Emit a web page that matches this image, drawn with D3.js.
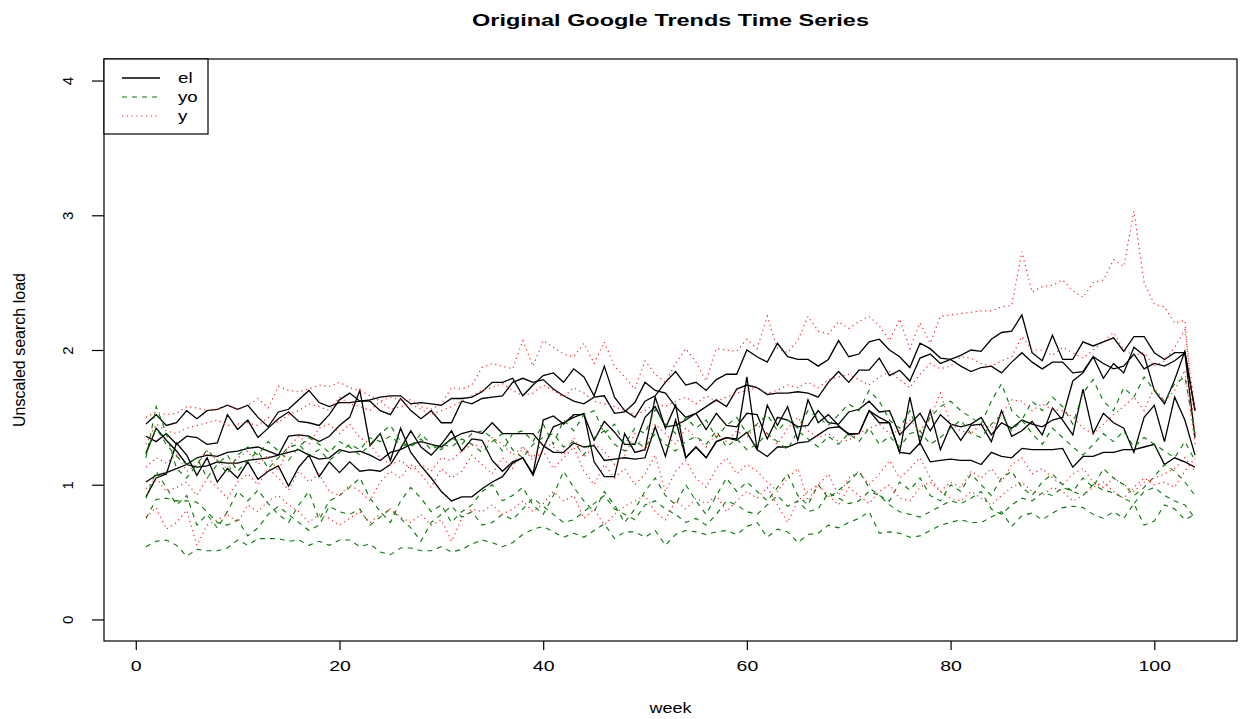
<!DOCTYPE html>
<html>
<head>
<meta charset="utf-8">
<script src="https://cdn.jsdelivr.net/npm/d3@7"></script>
<style>
  body { margin: 0; background: #fff; }
  text { font-family: "Liberation Sans", Arial, sans-serif; fill: #000; }
</style>
</head>
<body>
<script>
// weekly values (5 series per search term)
let el1 = [1.45,1.52,1.44,1.46,1.55,1.49,1.55,1.56,1.59,1.56,
  1.59,1.50,1.43,1.54,1.56,1.63,1.70,1.61,1.58,1.61,
  1.61,1.62,1.63,1.65,1.66,1.66,1.60,1.61,1.60,1.59,
  1.64,1.64,1.65,1.69,1.76,1.76,1.79,1.66,1.74,1.81,
  1.83,1.76,1.86,1.80,1.66,1.88,1.65,1.55,1.50,1.62,
  1.66,1.76,1.84,1.74,1.76,1.70,1.78,1.82,1.82,2.00,
  1.95,1.91,2.05,1.95,1.93,1.93,1.88,1.93,2.07,1.95,
  1.97,2.06,2.08,2.00,1.95,1.87,2.05,2.01,1.94,1.93,
  1.96,2.00,1.99,2.08,2.13,2.14,2.26,1.98,1.92,2.11,
  1.93,1.93,2.06,2.03,2.06,2.09,1.99,2.10,2.10,1.98,
  1.93,1.98,1.98,1.55]
let el2 = [1.36,1.32,1.38,1.30,1.36,1.35,1.30,1.31,1.52,1.41,
  1.48,1.35,1.42,1.49,1.54,1.47,1.46,1.44,1.52,1.63,
  1.68,1.62,1.62,1.55,1.52,1.64,1.55,1.49,1.55,1.46,
  1.46,1.62,1.60,1.64,1.65,1.66,1.76,1.79,1.76,1.78,
  1.71,1.66,1.62,1.60,1.65,1.66,1.53,1.54,1.61,1.76,
  1.70,1.68,1.58,1.50,1.53,1.58,1.63,1.58,1.71,1.74,
  1.72,1.67,1.68,1.68,1.69,1.68,1.65,1.76,1.84,1.76,
  1.85,1.85,1.94,1.81,1.85,1.77,1.94,1.97,1.90,1.93,
  1.88,1.84,1.87,1.88,1.83,1.91,1.98,1.91,1.86,1.91,
  1.91,1.83,1.84,1.95,1.90,1.86,1.88,1.97,1.86,1.90,
  1.88,1.92,1.98,1.35]
let el3 = [1.23,1.42,1.33,1.25,1.15,1.13,1.14,1.17,1.16,1.16,
  1.18,1.19,1.20,1.22,1.36,1.37,1.36,1.32,1.36,1.44,
  1.50,1.70,1.29,1.38,1.18,1.42,1.24,1.14,1.05,0.95,
  0.88,0.91,0.91,0.97,1.02,1.06,1.16,1.20,1.07,1.27,
  1.43,1.46,1.50,1.53,1.17,1.06,1.06,1.38,1.24,1.26,
  1.65,1.42,1.59,1.20,1.28,1.20,1.32,1.35,1.34,1.80,
  1.26,1.59,1.44,1.58,1.33,1.63,1.46,1.52,1.44,1.37,
  1.38,1.55,1.50,1.46,1.24,1.65,1.31,1.55,1.26,1.44,
  1.33,1.44,1.45,1.32,1.55,1.36,1.40,1.47,1.37,1.57,
  1.48,1.37,1.71,1.38,1.53,1.46,1.42,1.24,1.50,1.59,
  1.32,1.65,1.48,1.22]
let el4 = [1.02,1.07,1.09,1.12,1.15,1.20,1.22,1.21,1.24,1.25,
  1.27,1.28,1.25,1.22,1.24,1.26,1.22,1.19,1.20,1.26,
  1.24,1.25,1.22,1.18,1.24,1.26,1.30,1.32,1.30,1.28,
  1.34,1.38,1.40,1.38,1.46,1.38,1.38,1.38,1.38,1.29,
  1.24,1.24,1.31,1.28,1.29,1.18,1.19,1.20,1.19,1.20,
  1.43,1.21,1.48,1.20,1.28,1.20,1.32,1.35,1.33,1.39,
  1.26,1.21,1.28,1.28,1.31,1.32,1.37,1.42,1.43,1.38,
  1.38,1.55,1.46,1.46,1.24,1.23,1.31,1.17,1.18,1.19,
  1.18,1.18,1.15,1.24,1.21,1.20,1.27,1.26,1.26,1.26,
  1.27,1.13,1.21,1.21,1.24,1.24,1.26,1.26,1.28,1.30,
  1.15,1.20,1.17,1.13]
let el5 = [0.91,1.05,1.08,1.31,1.22,1.07,1.20,1.02,1.12,1.05,
  1.17,1.04,1.10,1.14,0.99,1.13,1.22,1.06,1.17,1.09,
  1.17,1.10,1.11,1.10,1.15,1.27,1.40,1.28,1.22,1.30,
  1.40,1.25,1.34,1.33,1.18,1.10,1.17,1.20,1.08,1.48,
  1.51,1.45,1.52,1.52,1.33,1.47,1.39,1.30,1.30,1.50,
  1.58,1.43,1.44,1.48,1.53,1.41,1.53,1.44,1.43,1.53,
  1.52,1.34,1.50,1.48,1.43,1.44,1.55,1.46,1.45,1.54,
  1.56,1.62,1.54,1.55,1.37,1.45,1.53,1.40,1.52,1.45,
  1.43,1.45,1.50,1.37,1.46,1.42,1.48,1.45,1.43,1.48,
  1.50,1.77,1.83,1.95,1.79,1.90,1.83,2.02,1.96,1.70,
  1.60,1.78,1.99,1.55]

let yo1 = [0.54,0.58,0.59,0.55,0.47,0.52,0.51,0.51,0.53,0.59,
  0.55,0.60,0.60,0.60,0.58,0.59,0.55,0.58,0.55,0.59,
  0.59,0.54,0.56,0.50,0.48,0.53,0.53,0.51,0.51,0.54,
  0.50,0.52,0.56,0.59,0.57,0.54,0.57,0.63,0.67,0.69,
  0.65,0.61,0.64,0.61,0.66,0.71,0.60,0.65,0.65,0.61,
  0.66,0.55,0.63,0.66,0.65,0.63,0.65,0.66,0.63,0.69,
  0.72,0.61,0.67,0.65,0.57,0.63,0.64,0.70,0.68,0.72,
  0.75,0.80,0.64,0.65,0.64,0.61,0.62,0.66,0.70,0.72,
  0.74,0.72,0.72,0.76,0.80,0.69,0.77,0.79,0.74,0.79,
  0.83,0.84,0.83,0.78,0.75,0.80,0.75,0.86,0.70,0.73,
  0.85,0.82,0.74,0.78]
let yo2 = [0.75,0.89,0.90,0.88,0.88,0.87,0.80,0.72,0.70,0.74,
  0.62,0.68,0.78,0.84,0.78,0.72,0.66,0.70,0.84,0.80,
  0.78,0.82,0.70,0.76,0.82,0.75,0.68,0.58,0.72,0.78,
  0.84,0.76,0.80,0.70,0.72,0.78,0.74,0.82,0.90,0.84,
  0.78,0.72,0.74,0.80,0.86,0.92,0.82,0.78,0.74,0.85,
  0.88,0.82,0.78,0.72,0.75,0.70,0.78,0.88,0.85,0.80,
  0.78,0.85,0.92,0.84,0.88,0.80,0.82,0.94,0.90,0.86,
  0.88,0.95,0.92,0.85,0.80,0.78,0.76,0.80,0.84,0.88,
  0.86,0.90,0.95,0.82,0.78,0.85,0.90,0.88,0.94,0.92,
  0.98,0.95,0.92,1.00,0.96,0.94,0.90,0.86,0.95,0.98,
  0.92,0.88,0.85,0.75]
let yo3 = [0.90,1.10,0.98,0.85,0.92,0.70,0.78,0.68,0.80,0.95,
  0.88,0.96,0.86,0.78,0.72,0.85,0.95,0.74,0.88,0.92,
  0.98,1.05,0.90,0.80,0.72,0.88,0.98,0.90,0.80,0.85,
  0.72,0.80,0.85,0.95,1.00,0.88,0.92,0.98,0.85,0.78,
  0.92,1.10,0.98,0.88,0.80,0.95,0.85,0.72,0.82,0.95,
  1.05,0.92,0.85,1.00,0.88,0.78,0.92,1.05,0.95,1.02,
  0.95,0.88,0.98,1.08,0.92,0.85,1.00,0.90,0.96,1.02,
  1.10,0.98,0.92,0.88,1.02,0.96,1.05,0.92,0.88,1.00,
  0.95,1.08,1.00,0.92,1.05,1.10,0.98,0.92,1.02,1.08,
  1.00,0.95,1.05,0.98,1.12,1.05,1.00,0.92,0.98,1.06,
  1.15,1.10,1.02,0.92]
let yo4 = [1.24,1.42,1.30,1.21,1.15,1.20,1.05,1.15,1.22,1.10,
  1.18,1.25,1.12,1.20,1.28,1.30,1.22,1.26,1.18,1.24,
  1.30,1.26,1.35,1.32,1.36,1.30,1.28,1.34,1.26,1.30,
  1.28,1.34,1.30,1.24,1.32,1.38,1.26,1.20,1.30,1.35,
  1.38,1.28,1.32,1.22,1.35,1.40,1.30,1.25,1.32,1.28,
  1.38,1.30,1.25,1.32,1.36,1.30,1.40,1.28,1.34,1.26,
  1.30,1.38,1.32,1.26,1.40,1.34,1.28,1.36,1.30,1.38,
  1.32,1.42,1.30,1.36,1.28,1.38,1.40,1.30,1.35,1.42,
  1.48,1.38,1.35,1.45,1.52,1.40,1.48,1.38,1.30,1.42,
  1.35,1.28,1.22,1.30,1.38,1.32,1.40,1.28,1.35,1.30,
  1.25,1.20,1.32,1.18]
let yo5 = [1.20,1.58,1.38,1.12,1.05,1.15,1.26,1.18,1.08,1.22,
  1.28,1.22,1.32,1.25,1.18,1.28,1.35,1.30,1.24,1.32,
  1.28,1.22,1.30,1.38,1.44,1.32,1.28,1.38,1.30,1.26,
  1.35,1.30,1.38,1.40,1.35,1.25,1.38,1.40,1.32,1.45,
  1.30,1.48,1.40,1.52,1.55,1.38,1.45,1.30,1.42,1.38,
  1.56,1.45,1.38,1.50,1.42,1.48,1.35,1.44,1.50,1.38,
  1.45,1.52,1.40,1.48,1.42,1.55,1.50,1.44,1.52,1.60,
  1.55,1.70,1.62,1.48,1.42,1.55,1.35,1.50,1.58,1.62,
  1.55,1.50,1.45,1.62,1.75,1.55,1.48,1.62,1.55,1.65,
  1.58,1.45,1.68,1.78,1.62,1.55,1.72,1.65,1.80,1.70,
  1.62,1.75,1.80,1.38]

let y1 = [1.50,1.54,1.52,1.53,1.58,1.57,1.55,1.56,1.59,1.56,
  1.59,1.64,1.57,1.73,1.70,1.69,1.71,1.74,1.73,1.76,
  1.72,1.70,1.66,1.62,1.65,1.63,1.63,1.58,1.56,1.60,
  1.72,1.71,1.74,1.87,1.90,1.88,1.86,2.07,1.88,2.07,
  2.02,1.97,1.95,2.05,1.90,2.06,1.88,1.80,1.71,1.92,
  1.82,1.76,1.90,2.01,1.91,1.77,2.01,2.00,1.99,2.08,
  2.01,2.25,2.01,1.98,2.07,2.25,2.14,2.12,2.21,2.16,
  2.21,2.25,2.18,2.07,2.23,2.01,2.20,2.05,2.25,2.26,
  2.27,2.28,2.29,2.29,2.32,2.33,2.73,2.43,2.47,2.48,
  2.52,2.44,2.39,2.50,2.52,2.67,2.62,3.03,2.50,2.34,
  2.32,2.20,2.22,1.35]
let y2 = [1.30,1.45,1.40,1.38,1.42,1.44,1.46,1.48,1.44,1.45,
  1.46,1.44,1.50,1.46,1.52,1.55,1.60,1.58,1.55,1.65,
  1.60,1.58,1.55,1.62,1.56,1.58,1.60,1.56,1.52,1.55,
  1.58,1.62,1.66,1.70,1.72,1.75,1.70,1.66,1.68,1.74,
  1.70,1.65,1.72,1.68,1.62,1.60,1.58,1.55,1.52,1.55,
  1.60,1.58,1.62,1.65,1.60,1.66,1.62,1.65,1.68,1.70,
  1.72,1.68,1.70,1.74,1.72,1.76,1.72,1.78,1.80,1.82,
  1.78,1.74,1.80,1.84,1.78,1.72,1.82,1.90,1.86,1.88,
  1.95,1.94,1.90,1.88,1.92,1.95,2.10,2.00,2.00,1.96,
  2.02,1.98,1.94,2.00,2.06,2.13,2.00,1.96,1.98,1.88,
  1.92,2.02,2.15,1.55]
let y3 = [1.13,1.20,1.16,1.22,1.10,1.15,1.25,1.18,1.12,1.20,
  1.25,1.15,1.22,1.10,1.28,1.36,1.30,1.42,1.45,1.38,
  1.45,1.35,1.30,1.20,1.15,1.18,1.12,1.15,1.10,1.20,
  1.18,1.25,1.30,1.28,1.35,1.30,1.22,1.28,1.20,1.32,
  1.28,1.22,1.35,1.20,1.30,1.25,1.15,1.22,1.38,1.25,
  1.45,1.38,1.30,1.42,1.35,1.28,1.38,1.32,1.40,1.35,
  1.45,1.38,1.30,1.42,1.50,1.40,1.35,1.38,1.32,1.33,
  1.38,1.42,1.45,1.38,1.40,1.48,1.40,1.50,1.68,1.45,
  1.40,1.38,1.45,1.42,1.52,1.63,1.62,1.55,1.60,1.56,
  1.55,1.50,1.42,1.38,1.45,1.52,1.58,1.65,1.55,1.72,
  1.62,1.70,1.85,1.30]
let y4 = [0.97,1.05,0.95,0.98,1.02,0.92,1.05,0.98,0.90,1.02,
  1.08,1.00,1.12,1.05,0.96,1.10,1.02,1.08,0.95,0.92,
  1.00,0.95,0.88,1.02,1.10,1.05,1.15,1.08,0.98,1.12,
  1.05,1.10,1.22,1.15,1.08,1.20,1.12,1.28,1.18,1.25,
  1.12,1.20,1.28,1.10,1.00,1.15,1.05,1.12,1.00,1.08,
  1.22,0.95,1.10,1.18,1.05,0.98,1.12,1.20,1.08,1.15,
  1.10,1.02,0.95,1.05,1.12,0.88,1.00,1.08,0.92,1.05,
  1.10,1.00,1.08,1.18,1.05,1.12,1.20,1.05,0.95,1.02,
  0.98,1.10,1.05,1.12,1.02,1.15,1.20,1.08,1.12,1.05,
  1.00,1.08,1.12,1.02,0.98,1.05,1.00,0.95,1.02,1.05,
  1.08,1.12,1.20,1.10]
let y5 = [0.76,0.83,0.67,0.72,0.81,0.55,0.70,0.74,0.78,0.72,
  0.85,0.80,0.88,0.92,0.85,0.80,0.72,0.78,0.75,0.70,
  0.75,0.80,0.72,0.78,0.82,0.76,0.72,0.78,0.70,0.74,
  0.58,0.75,0.82,0.80,0.85,0.78,0.82,0.88,0.80,0.86,
  0.95,0.88,0.92,0.75,0.82,0.70,0.78,0.84,0.88,0.92,
  0.80,0.74,0.88,0.82,0.90,0.86,0.92,0.80,0.88,0.95,
  0.90,0.98,0.85,0.72,0.88,0.95,1.00,0.92,0.85,0.98,
  0.92,0.86,0.95,1.00,0.90,0.88,0.98,1.02,0.95,0.90,
  0.88,0.95,0.90,0.85,0.92,0.98,1.02,0.95,0.92,0.98,
  0.95,0.88,0.92,0.98,1.02,0.95,0.90,0.98,1.05,1.00,
  1.02,0.98,1.10,1.20]

let xTicks = [0, 20, 40, 60, 80, 100]
let yTicks = [0, 1, 2, 3, 4]
let legendNames = ['el', 'yo', 'y']

let elSeries = [el1, el2, el3, el4, el5]
let yoSeries = [yo1, yo2, yo3, yo4, yo5]
let ySeries = [y1, y2, y3, y4, y5]

var width = 1241, height = 719
var margin = { top: 59, right: 4, bottom: 78, left: 104 }
var stretch = 1.3   // the text in the picture is drawn wider than normal

var styles = {
    el: { color: '#000000', dash: null, w: 1.3 },
    yo: { color: '#007a00', dash: '5,5', w: 1.1 },
    y:  { color: '#ff2020', dash: '1.2,3.6', w: 1.2 }
}

var svg = d3.select('body').append('svg')
    .attr('width', width)
    .attr('height', height)
    .style('background', '#fff')

// R style 4% padding around the data range
var xScale = d3.scaleLinear()
    .domain([1 - 0.04 * 103, 104 + 0.04 * 103])
    .range([margin.left, width - margin.right])

var yScale = d3.scaleLinear()
    .domain([-0.16, 4.16])
    .range([height - margin.bottom, margin.top])

var line = d3.line()
    .x((d, i) => xScale(i + 1))
    .y(d => yScale(d))

function drawGroup(series, st) {
    svg.append('g')
        .selectAll('path')
        .data(series)
        .enter()
        .append('path')
        .attr('d', line)
        .attr('fill', 'none')
        .attr('stroke', st.color)
        .attr('stroke-width', st.w)
        .attr('stroke-dasharray', st.dash)
}

drawGroup(elSeries, styles.el)
drawGroup(yoSeries, styles.yo)
drawGroup(ySeries, styles.y)

// box
svg.append('rect')
    .attr('x', margin.left)
    .attr('y', margin.top)
    .attr('width', width - margin.right - margin.left)
    .attr('height', height - margin.bottom - margin.top)
    .attr('fill', 'none')
    .attr('stroke', '#000')
    .attr('stroke-width', 1.2)

// x axis
var xAxis = d3.axisBottom(xScale)
    .tickValues(xTicks)
    .tickSize(9)
    .tickPadding(10)
    .tickFormat(d3.format('d'))

var gx = svg.append('g')
    .attr('transform', 'translate(0,' + (height - margin.bottom) + ')')
    .call(xAxis)
gx.select('.domain').remove()
gx.selectAll('line').attr('stroke', '#000').attr('stroke-width', 1.2)
gx.selectAll('text')
    .attr('transform', 'scale(' + stretch + ',1)')
    .style('font-size', '15px')
    .style('font-family', '"Liberation Sans", Arial, sans-serif')

// y axis, labels turned like R does
var yAxis = d3.axisLeft(yScale)
    .tickValues(yTicks)
    .tickSize(12)
    .tickFormat(d3.format('d'))

var gy = svg.append('g')
    .attr('transform', 'translate(' + margin.left + ',0)')
    .call(yAxis)
gy.select('.domain').remove()
gy.selectAll('line').attr('stroke', '#000').attr('stroke-width', 1.2)
gy.selectAll('text')
    .attr('x', 0)
    .attr('text-anchor', 'middle')
    .attr('transform', 'translate(-36,0) rotate(-90)')
    .attr('dy', '0.35em')
    .style('font-size', '15px')
    .style('font-family', '"Liberation Sans", Arial, sans-serif')

// titles
var midX = (margin.left + width - margin.right) / 2

svg.append('text')
    .attr('transform', 'translate(' + midX + ',26) scale(1.38,1)')
    .attr('text-anchor', 'middle')
    .style('font-size', '17px')
    .style('font-weight', 'bold')
    .text('Original Google Trends Time Series')

svg.append('text')
    .attr('transform', 'translate(' + midX + ',713) scale(1.2,1)')
    .attr('text-anchor', 'middle')
    .style('font-size', '15px')
    .text('week')

svg.append('text')
    .attr('transform', 'translate(25,' + ((margin.top + height - margin.bottom) / 2) + ') rotate(-90)')
    .attr('text-anchor', 'middle')
    .style('font-size', '16px')
    .text('Unscaled search load')

// legend
var lg = svg.append('g')
lg.append('rect')
    .attr('x', margin.left)
    .attr('y', margin.top)
    .attr('width', 104)
    .attr('height', 75)
    .attr('fill', '#fff')
    .attr('stroke', '#000')
    .attr('stroke-width', 1.2)

var keys = ['el', 'yo', 'y']
legendNames.forEach(function (name, i) {
    var st = styles[keys[i]]
    var yy = margin.top + 19 + i * 19
    lg.append('line')
        .attr('x1', 122).attr('x2', 160)
        .attr('y1', yy).attr('y2', yy)
        .attr('stroke', st.color)
        .attr('stroke-width', st.w)
        .attr('stroke-dasharray', st.dash)
    lg.append('text')
        .attr('transform', 'translate(178,' + yy + ') scale(1.25,1)')
        .attr('dy', '0.35em')
        .style('font-size', '15px')
        .text(name)
})
</script>
</body>
</html>
